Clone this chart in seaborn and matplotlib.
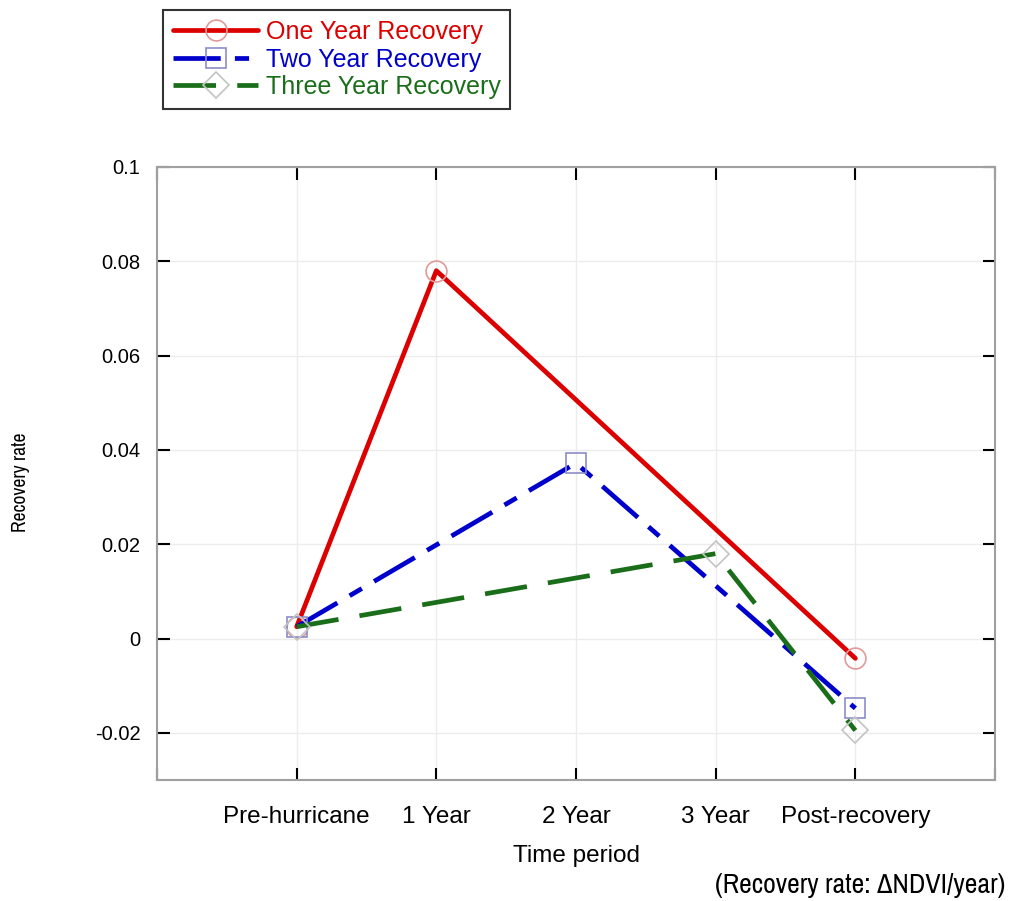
import numpy as np
import pandas as pd
import matplotlib
matplotlib.use("Agg")
import matplotlib.pyplot as plt
import seaborn as sns

# ---- data ----
periods = ["Pre-hurricane", "1 Year", "2 Year", "3 Year", "Post-recovery"]
one_year = [0.0025, 0.078, np.nan, np.nan, -0.0042]
two_year = [0.0025, np.nan, 0.0372, np.nan, -0.0148]
three_year = [0.0025, np.nan, np.nan, 0.018, -0.0195]
series_names = ["One Year Recovery", "Two Year Recovery", "Three Year Recovery"]
y_ticks = [-0.02, 0, 0.02, 0.04, 0.06, 0.08, 0.1]
y_tick_labels = ["-0.02", "0", "0.02", "0.04", "0.06", "0.08", "0.1"]

sns.set_theme(style="white")
plt.rcParams["font.family"] = ["Liberation Sans", "DejaVu Sans"]
plt.rcParams["text.color"] = "black"
plt.rcParams["xtick.color"] = "black"
plt.rcParams["ytick.color"] = "black"
plt.rcParams["axes.labelcolor"] = "black"
NARROW = ["Archivo Narrow", "DejaVu Sans"]

fig = plt.figure(figsize=(10.14, 9.01), dpi=100)
ax = fig.add_axes([0.1548, 0.1343, 0.9813 - 0.1548, 0.8147 - 0.1343])

xpos = np.arange(1, len(periods) + 1)
styles = [
    dict(color="#dd0000", mec="#e09a9a", marker="o", ms=15, dashes=None),
    dict(color="#0000cc", mec="#8c8cc8", marker="s", ms=15, dashes=(10, 3, 3, 3)),
    dict(color="#1a6e1a", mec="#c4c4c4", marker="D", ms=13, dashes=(9, 4.5)),
]
handles = []
for name, vals, st in zip(series_names, [one_year, two_year, three_year], styles):
    df = pd.DataFrame({"x": xpos, "y": vals}).dropna()
    kw = dict(lw=3.4, marker=st["marker"], markersize=st["ms"],
              markerfacecolor="none", markeredgecolor=st["mec"], markeredgewidth=1.2)
    sns.lineplot(data=df, x="x", y="y", ax=ax, color=st["color"], label=name, **kw)
    line = ax.get_lines()[-1]
    if st["dashes"] is not None:
        line.set_dashes(st["dashes"])
    handles.append(line)

ax.set_xlim(0, 6)
ax.set_ylim(-0.03, 0.1)
ax.set_xticks(range(0, 7))
ax.set_xticklabels([""] + periods + [""], fontsize=17.5)
ax.set_yticks(y_ticks)
ax.set_yticklabels(y_tick_labels, fontsize=14.5)
ax.tick_params(axis="both", direction="in", length=9, width=1.5, color="black",
               top=True, right=True, bottom=True, left=True)
ax.tick_params(axis="x", pad=19)
ax.tick_params(axis="y", pad=12)
ax.grid(True, color="#ececec", lw=1)
for s in ax.spines.values():
    s.set_color("#a0a0a0")
    s.set_linewidth(1.5)

ax.set_xlabel("Time period", fontsize=17.5, labelpad=12)
ax.set_ylabel("Recovery rate", fontsize=14, family=NARROW)
ax.yaxis.set_label_coords(-0.151, 0.486)

leg = ax.legend(handles=handles, labels=series_names, loc="upper left",
                bbox_to_anchor=(163 / 1014, 1 - 10 / 901), bbox_transform=fig.transFigure,
                borderaxespad=0, fontsize=18, frameon=True, fancybox=False, edgecolor="black",
                handlelength=3.4, labelspacing=0.14, borderpad=0.4, handletextpad=0.3,
                labelcolor="linecolor")
leg.get_frame().set_linewidth(1.5)

fig.text(1005 / 1014, 1 - 885 / 901, "(Recovery rate: \u2206NDVI/year)", ha="right", va="center",
         fontsize=20, family=NARROW)

fig.savefig("out.png", dpi=100, facecolor="white")
